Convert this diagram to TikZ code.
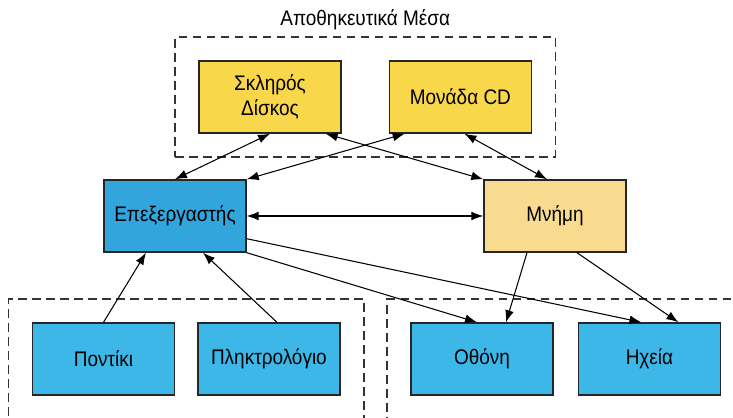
\documentclass[tikz,border=0pt]{standalone}
\usepackage{fontspec}
\setmainfont{Liberation Sans}[FakeStretch=0.9]
\usetikzlibrary{arrows.meta,positioning,fit}
\definecolor{diskyellow}{HTML}{F8D74A}
\definecolor{memyellow}{HTML}{F8DB8F}
\definecolor{cpublue}{HTML}{32A5DC}
\definecolor{ioblue}{HTML}{3DB6E8}

\begin{document}
\begin{tikzpicture}[
      node distance=5mm,
      >={Latex[length=3mm,width=2.2mm]},
      box/.style={draw=black!85, line width=1pt, minimum width=3.55cm,
      minimum height=1.8cm, align=center, font=\fontsize{15}{18}\selectfont},
      group/.style={draw=black!80, line width=1.1pt, dash pattern=on 2.2mm off 1.3mm,
      inner sep=0.58cm},
      flow/.style={->, line width=0.75pt}
    ]
    \useasboundingbox (0,0) rectangle (18.325,10.45);
    \node[box, fill=cpublue] (cpu) at (4.375,5.05) {Επεξεργαστής};
    \node[box, fill=memyellow] (mem) at (13.875,5.05) {Μνήμη};
    \node[box, fill=diskyellow] (hdd) at (6.75,8.025) {Σκληρός\\Δίσκος};
    \node[box, fill=diskyellow, right=1.175cm of hdd] (cd) {Μονάδα CD};
    \node[box, fill=ioblue] (mouse) at (2.5875,1.475) {Ποντίκι};
    \node[box, fill=ioblue, right=0.55cm of mouse] (keyboard) {Πληκτρολόγιο};
    \node[box, fill=ioblue] (screen) at (12.05,1.475) {Οθόνη};
    \node[box, fill=ioblue, right=0.6cm of screen] (speakers) {Ηχεία};
    % dashed groups
    \node[group, fit=(hdd)(cd)] (storage) {};
    \node[above=0.4mm of storage, font=\fontsize{15}{18}\selectfont] (title) {Αποθηκευτικά Μέσα};
    \node[group, fit=(mouse)(keyboard)] (inputs) {};
    \node[group, fit=(screen)(speakers)] (outputs) {};
    % connections
    \draw[flow, <->] (hdd.south) -- (cpu.north);
    \draw[flow, <->] ([xshift=-0.4cm]hdd.south east) -- (mem.north west);
    \draw[flow, <->] ([xshift=0.4cm]cd.south west) -- (cpu.north east);
    \draw[flow, <->] ([xshift=0.1cm]cd.south) -- ([xshift=-0.2cm]mem.north);
    \draw[flow, <->] (cpu.east) -- (mem.west);
    \draw[flow] (mouse.north) -- ([xshift=-0.725cm]cpu.south);
    \draw[flow] ([xshift=0.2cm]keyboard.north) -- ([xshift=0.7cm]cpu.south);
    \draw[flow] (cpu.south east) -- ([xshift=-0.125cm]screen.north);
    \draw[flow] ([yshift=0.35cm]cpu.south east) -- ([xshift=-0.2cm]speakers.north);
    \draw[flow] ([xshift=-0.7cm]mem.south) -- ([xshift=0.6cm]screen.north);
    \draw[flow] ([xshift=0.55cm]mem.south) -- ([xshift=0.725cm]speakers.north);
  \end{tikzpicture}
\end{document}
